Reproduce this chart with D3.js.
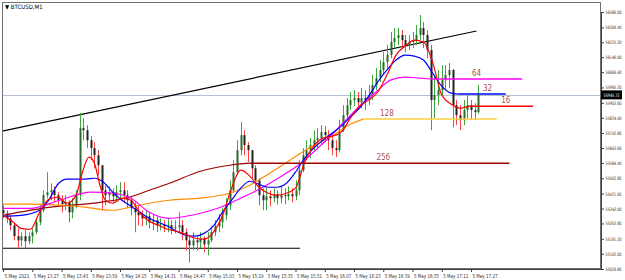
<!DOCTYPE html>
<html><head><meta charset="utf-8">
<script src="https://cdn.jsdelivr.net/npm/d3@7/dist/d3.min.js"></script>
<style>
body{margin:0;background:#fff}
svg{display:block}
text{font-family:"Liberation Sans Narrow","DejaVu Sans Condensed","Liberation Sans",sans-serif}
</style>
</head><body>
<svg id="chart" width="625" height="280"></svg>
<script>
// ---------- DATA ----------
const symbol = "BTCUSD,M1";
// bar times: minutes after 13:11, one candle every 2 minutes
const barMinutes = d3.range(0, 261, 2);
const opens = [55333,55317,55290,55253,55195,55173,55195,55168,55195,55216,55269,55333,55413,55429,55439,55413,55386,55365,55375,55322,55354,55413,55769,55758,55705,55663,55625,55572,55439,55413,55429,55407,55429,55439,55413,55386,55343,55322,55306,55290,55301,55269,55280,55253,55258,55248,55253,55237,55242,55253,55216,55173,55147,55173,55163,55184,55152,55173,55216,55248,55269,55306,55359,55439,55535,55652,55732,55679,55652,55556,55492,55413,55386,55407,55397,55418,55397,55413,55407,55418,55407,55439,55546,55625,55652,55679,55705,55716,55748,55732,55705,55663,55652,55758,55838,55891,55918,55929,55907,55929,55918,55945,55998,56035,56078,56120,56157,56227,56248,56264,56237,56211,56227,56237,56264,56301,56264,56184,55918,55945,55971,56024,56051,56078,55891,55838,55812,55865,55891,55865,55854];
const closes = [55317,55290,55253,55195,55173,55195,55168,55195,55216,55269,55333,55413,55429,55439,55413,55386,55365,55375,55322,55354,55413,55769,55758,55705,55663,55625,55572,55439,55413,55429,55407,55429,55439,55413,55386,55343,55322,55306,55290,55301,55269,55280,55253,55258,55248,55253,55237,55242,55253,55216,55173,55147,55173,55163,55184,55152,55173,55216,55248,55269,55306,55359,55439,55535,55652,55732,55679,55652,55556,55492,55413,55386,55407,55397,55418,55397,55413,55407,55418,55407,55439,55546,55625,55652,55679,55705,55716,55748,55732,55705,55663,55652,55758,55838,55891,55918,55929,55907,55929,55918,55945,55998,56035,56078,56120,56157,56227,56248,56264,56237,56211,56227,56237,56264,56301,56264,56184,55918,55945,55971,56024,56051,56078,55891,55838,55812,55865,55891,55865,55854,55945];
const highs = [55359,55333,55306,55269,55237,55216,55226,55216,55237,55290,55359,55439,55535,55476,55460,55429,55413,55413,55386,55397,55439,55849,55822,55785,55726,55695,55652,55572,55466,55460,55450,55466,55482,55482,55439,55407,55375,55359,55333,55333,55322,55312,55301,55290,55280,55290,55280,55280,55322,55280,55237,55200,55216,55200,55216,55195,55216,55248,55280,55312,55343,55397,55492,55599,55705,55801,55758,55695,55652,55572,55503,55450,55450,55439,55450,55439,55460,55450,55460,55450,55492,55599,55663,55705,55716,55758,55769,55785,55780,55758,55732,55705,55812,55891,55929,55961,55971,55961,55982,55971,55998,56051,56088,56131,56173,56211,56280,56301,56301,56290,56264,56264,56280,56317,56370,56333,56290,56211,56051,56078,56104,56104,56115,56083,55918,55891,55918,55945,55918,55902,55998];
const lows = [55290,55264,55226,55173,55131,55141,55131,55152,55157,55205,55253,55322,55397,55386,55375,55354,55322,55333,55269,55290,55343,55386,55705,55663,55599,55556,55519,55333,55359,55386,55375,55386,55397,55370,55343,55306,55216,55253,55248,55253,55237,55226,55216,55226,55216,55216,55205,55210,55216,55173,55120,55056,55120,55120,55131,55109,55093,55163,55195,55216,55237,55280,55333,55429,55519,55625,55625,55588,55503,55439,55359,55333,55333,55354,55375,55365,55370,55365,55386,55375,55386,55413,55535,55599,55609,55652,55663,55679,55695,55652,55625,55615,55641,55748,55822,55865,55886,55865,55875,55865,55891,55918,55971,56014,56051,56088,56141,56195,56211,56195,56173,56184,56195,56211,56237,56195,56141,55758,55822,55891,55945,55971,55982,55774,55785,55758,55785,55822,55812,55812,55845];

// Centered moving averages: [minute, price]
const ma16 = [[0,55306],[5,55274],[10,55237],[15,55232],[20,55322],[25,55391],[30,55402],[35,55370],[40,55413],[43,55519],[47,55615],[50,55583],[53,55466],[56,55386],[60,55370],[65,55397],[70,55386],[75,55317],[80,55274],[85,55253],[90,55232],[95,55221],[100,55205],[105,55184],[110,55179],[115,55216],[120,55301],[125,55450],[130,55546],[135,55514],[140,55455],[145,55423],[150,55413],[155,55423],[160,55450],[165,55588],[170,55673],[175,55716],[180,55726],[185,55748],[190,55822],[195,55886],[200,55918],[205,55961],[210,56051],[215,56157],[220,56205],[225,56237],[230,56227],[235,56120],[240,55945],[245,55897],[250,55875],[255,55886]];
const ma32 = [[0,55301],[10,55306],[20,55333],[25,55386],[30,55471],[35,55498],[40,55498],[45,55498],[50,55503],[55,55482],[60,55429],[65,55386],[70,55354],[75,55322],[80,55290],[85,55269],[90,55248],[95,55221],[100,55200],[105,55195],[110,55210],[115,55248],[120,55322],[125,55386],[130,55450],[135,55487],[140,55471],[145,55455],[150,55455],[155,55476],[160,55535],[165,55609],[170,55663],[175,55705],[180,55742],[185,55780],[190,55828],[195,55875],[200,55939],[205,56014],[210,56078],[215,56131],[220,56157],[225,56152],[230,56131],[235,56062],[240,55992],[245,55955],[249,55950]];
const ma64 = [[0,55343],[15,55343],[31,55386],[48,55429],[61,55423],[70,55397],[80,55322],[91,55290],[100,55301],[108,55317],[119,55349],[130,55397],[138,55434],[146,55476],[154,55524],[163,55583],[171,55652],[179,55726],[187,55806],[195,55886],[204,55961],[212,56024],[220,56040],[228,56035],[234,56030]];
const ma128 = [[0,55365],[15,55365],[31,55359],[45,55349],[53,55338],[61,55333],[69,55349],[80,55370],[91,55386],[108,55397],[124,55423],[135,55466],[146,55530],[157,55599],[168,55668],[179,55721],[190,55790],[197,55817]];
const ma256 = [[0,55306],[26,55349],[53,55375],[69,55402],[80,55439],[91,55476],[108,55540],[124,55572],[135,55583]];

// level lines at the end of each MA: [label, price, fromMinute, toMinute]
const levels = [["256",55583,135,277],["128",55817,197,270],["64",56030,234,284],["32",55950,249,275],["16",55886,255,290]];
const levelLabelMinute = [208, 210, 259, 265, 275];

// trend lines: [minute, price]
const trendUpper = [[-0.5,55753],[259,56285]];
const supportLine = [[-0.5,55131],[162.5,55131]];

const priceTicks = [56386.00,56304.40,56225.20,56146.00,56066.40,55985.20,55903.60,55824.40,55742.80,55663.60,55584.40,55502.80,55421.60,55342.00,55262.80,55181.20,55102.00,55020.80];
const timeTickMinutes = [0,16,32,48,64,80,96,112,128,144,160,176,192,208,224,240,256];
const timeTickLabels = ["5 May 2021","5 May 13:27","5 May 13:43","5 May 13:59","5 May 14:15","5 May 14:31","5 May 14:47","5 May 15:03","5 May 15:19","5 May 15:35","5 May 15:51","5 May 16:07","5 May 16:23","5 May 16:39","5 May 16:55","5 May 17:11","5 May 17:27"];
const currentPrice = 55945.72;

// ---------- DRAW ----------
const svg = d3.select("#chart");
const L = 2, R = 601, T = 2, B = 269;
const x = d3.scaleLinear().domain([0,256]).range([3,471]);
const y = d3.scaleLinear().domain([55020.8,56386]).range([269,12]);

svg.append("rect").attr("width",625).attr("height",280).attr("fill","#fff");

const plot = svg.append("g");
plot.append("clipPath").attr("id","clip").append("rect").attr("x",L).attr("y",T).attr("width",R-L).attr("height",B-T);
const g = plot.append("g").attr("clip-path","url(#clip)");

// current price line
const cpy = Math.round(y(currentPrice))+0.5;
g.append("line").attr("x1",L).attr("x2",R).attr("y1",cpy).attr("y2",cpy)
  .attr("stroke","#b4c0d4").attr("stroke-width",1);

const line = d3.line().x(d=>x(d[0])).y(d=>y(d[1])).curve(d3.curveMonotoneX);
const straight = d3.line().x(d=>x(d[0])).y(d=>y(d[1]));

// trend lines
g.append("path").attr("d",straight(trendUpper)).attr("stroke","#000").attr("stroke-width",1.2).attr("fill","none");
g.append("path").attr("d",straight(supportLine)).attr("stroke","#000").attr("stroke-width",1.2).attr("fill","none");

// candles
const bars = barMinutes.map((m,i)=>({m,o:opens[i],c:closes[i],h:highs[i],l:lows[i]}));
const cg = g.append("g");
bars.forEach(b=>{
  const cx = Math.round(x(b.m))+0.5;
  const up = b.c >= b.o;
  cg.append("line").attr("x1",cx).attr("x2",cx).attr("y1",y(b.h)).attr("y2",y(b.l))
    .attr("stroke", up ? "#3aa83a" : "#ff4040").attr("stroke-width",1);
  const top = y(Math.max(b.o,b.c)), bot = y(Math.min(b.o,b.c));
  cg.append("rect").attr("x",cx-1).attr("y",top).attr("width",2).attr("height",Math.max(1,bot-top))
    .attr("fill", up ? "#2a6a2a" : "#222");
});

// moving averages
const maDefs = [[ma256,"#a00000"],[ma128,"#ff8c00"],[ma64,"#ff00ff"],[ma32,"#0000ff"],[ma16,"#ff0000"]];
maDefs.forEach(([d,c])=>{
  g.append("path").attr("d",line(d)).attr("stroke",c).attr("stroke-width",1.2).attr("fill","none");
});
const levelColors = {"256":"#a00000","128":"#ffd040","64":"#ff00ff","32":"#0000ff","16":"#ff0000"};
levels.forEach(([lab,p,m0,m1],i)=>{
  const yy = y(p);
  g.append("line").attr("x1",x(m0)).attr("x2",x(m1)).attr("y1",yy).attr("y2",yy)
    .attr("stroke",levelColors[lab]).attr("stroke-width",1.5);
  g.append("text").attr("x",x(levelLabelMinute[i])).attr("y",yy-3).attr("text-anchor","middle")
    .attr("font-size",8).attr("fill","#b05050").text(lab);
});

// frame
svg.append("rect").attr("x",L+0.5).attr("y",T+0.5).attr("width",R-L-1).attr("height",B-T-1)
  .attr("fill","none").attr("stroke","#707070");

// right axis
const ay = svg.append("g").attr("transform",`translate(${R},0)`)
  .call(d3.axisRight(y).tickValues(priceTicks).tickSize(3).tickFormat(d=>d.toFixed(2)));
ay.select(".domain").attr("stroke","#404040");
ay.selectAll("text").attr("font-size",4.6).attr("fill","#333").attr("x",4.5)
  .attr("textLength",16).attr("lengthAdjust","spacingAndGlyphs");
ay.selectAll("line").attr("stroke","#404040");

// bottom axis
const ax = svg.append("g").attr("transform",`translate(0,${B})`)
  .call(d3.axisBottom(x).tickValues(timeTickMinutes).tickSize(3).tickFormat((d,i)=>timeTickLabels[i]));
ax.select(".domain").attr("stroke","#404040").attr("d",`M${L},0.5H${R}`);
ax.selectAll("text").attr("font-size",5.5).attr("fill","#333").attr("text-anchor","start").attr("dx",1).attr("y",5)
  .attr("textLength",25).attr("lengthAdjust","spacingAndGlyphs");
ax.selectAll("line").attr("stroke","#404040");

// current price tag
const cy = y(currentPrice);
svg.append("rect").attr("x",R).attr("y",cy-4.5).attr("width",21).attr("height",9).attr("fill","#000");
svg.append("text").attr("x",R+2.5).attr("y",cy+1.8).attr("font-size",4.6).attr("fill","#fff")
  .attr("textLength",16).attr("lengthAdjust","spacingAndGlyphs").text(currentPrice.toFixed(2));

// title
svg.append("text").attr("x",5).attr("y",9).attr("font-size",6).attr("fill","#000").text("\u25BC " + symbol);
</script>
</body></html>
